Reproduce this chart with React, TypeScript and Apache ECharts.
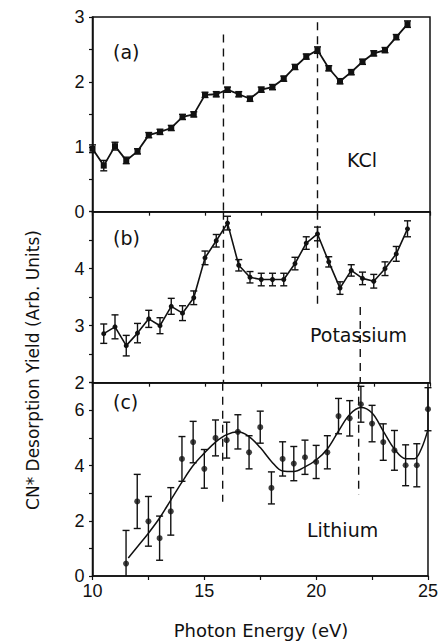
import React, { useEffect, useRef } from "react";
import * as echarts from "echarts";

// Panel (a) KCl
const kclX = [10, 10.5, 11, 11.5, 12, 12.5, 13, 13.5, 14, 14.5, 15, 15.5, 16, 16.5, 17, 17.5, 18, 18.5, 19, 19.5, 20, 20.5, 21, 21.5, 22, 22.5, 23, 23.5, 24];
const kclY = [0.97, 0.71, 1.01, 0.79, 0.93, 1.18, 1.23, 1.29, 1.46, 1.5, 1.8, 1.81, 1.88, 1.81, 1.74, 1.88, 1.92, 2.05, 2.23, 2.39, 2.49, 2.21, 2.01, 2.15, 2.31, 2.44, 2.49, 2.69, 2.89];
const kclErr = [0.06, 0.08, 0.06, 0.05, 0.04, 0.04, 0.04, 0.04, 0.04, 0.04, 0.04, 0.04, 0.04, 0.04, 0.04, 0.04, 0.04, 0.04, 0.04, 0.04, 0.05, 0.04, 0.04, 0.04, 0.04, 0.04, 0.04, 0.04, 0.05];

// Panel (b) Potassium
const kX = [10.5, 11, 11.5, 12, 12.5, 13, 13.5, 14, 14.5, 15, 15.5, 16, 16.5, 17, 17.5, 18, 18.5, 19, 19.5, 20, 20.5, 21, 21.5, 22, 22.5, 23, 23.5, 24];
const kY = [2.86, 2.98, 2.65, 2.87, 3.12, 3.0, 3.34, 3.22, 3.49, 4.19, 4.49, 4.8, 4.06, 3.85, 3.81, 3.81, 3.81, 4.09, 4.45, 4.61, 4.12, 3.66, 3.97, 3.83, 3.78, 4.0, 4.26, 4.7];
const kErr = [0.17, 0.21, 0.18, 0.17, 0.15, 0.14, 0.14, 0.13, 0.12, 0.12, 0.11, 0.12, 0.1, 0.1, 0.11, 0.11, 0.11, 0.11, 0.11, 0.12, 0.09, 0.11, 0.1, 0.11, 0.12, 0.12, 0.13, 0.14];

// Panel (c) Lithium
const liX = [11.5, 12, 12.5, 13, 13.5, 14, 14.5, 15, 15.5, 16, 16.5, 17, 17.5, 18, 18.5, 19, 19.5, 20, 20.5, 21, 21.5, 22, 22.5, 23, 23.5, 24, 24.5, 25];
const liY = [0.45, 2.7, 1.98, 1.37, 2.34, 4.24, 4.85, 3.88, 5.0, 4.92, 5.22, 4.48, 5.39, 3.19, 4.24, 4.07, 4.3, 4.13, 4.48, 5.79, 5.71, 6.22, 5.52, 4.85, 4.55, 4.01, 4.01, 6.04];
const liErr = [1.2, 0.98, 0.9, 0.8, 0.86, 0.81, 0.75, 0.7, 0.65, 0.65, 0.62, 0.6, 0.58, 0.58, 0.62, 0.62, 0.62, 0.6, 0.6, 0.64, 0.64, 0.65, 0.66, 0.66, 0.72, 0.74, 0.78, 0.78];

// Fitted curve in panel (c)
const fitX = [11.6, 12, 12.5, 13, 13.5, 14, 14.5, 15, 15.5, 16, 16.5, 17, 17.5, 18, 18.5, 19, 19.5, 20, 20.5, 21, 21.5, 22, 22.5, 23, 23.5, 24, 24.4, 24.7, 25];
const fitY = [0.65, 1.05, 1.55, 2.1, 2.75, 3.4, 4.0, 4.45, 4.85, 5.12, 5.22, 5.05, 4.65, 4.15, 3.8, 3.78, 3.95, 4.2, 4.6, 5.25, 5.85, 6.1, 5.9, 5.25, 4.6, 4.25, 4.25, 4.6, 5.3];

// Dashed guide lines: [x, grid index, yTop, yBottom]
const guideLines: [number, number, number, number][] = [
  [15.82, 0, 2.73, 0],
  [15.82, 1, 5, 2],
  [15.82, 2, 7, 2.69],
  [20.0, 0, 2.92, 0],
  [20.0, 1, 5, 3.33],
  [21.9, 1, 3.33, 2],
  [21.9, 2, 7, 2.93],
];

const INK = "#111";
const TICK_FONT = "Liberation Sans";
const TEXT_FONT = "DejaVu Sans";

function errRender(params: any, api: any) {
  const x = api.value(0);
  const lo = api.value(1);
  const hi = api.value(2);
  const cs = params.coordSys;
  const pHi = api.coord([x, hi]);
  const pLo = api.coord([x, lo]);
  const top = Math.max(pHi[1], cs.y);
  const bot = Math.min(pLo[1], cs.y + cs.height);
  const w = 3.5;
  const st = { stroke: INK, lineWidth: 1.4 };
  const children: any[] = [
    { type: "line", shape: { x1: pHi[0], y1: top, x2: pHi[0], y2: bot }, style: st },
  ];
  if (pHi[1] >= cs.y) children.push({ type: "line", shape: { x1: pHi[0] - w, y1: pHi[1], x2: pHi[0] + w, y2: pHi[1] }, style: st });
  if (pLo[1] <= cs.y + cs.height) children.push({ type: "line", shape: { x1: pLo[0] - w, y1: pLo[1], x2: pLo[0] + w, y2: pLo[1] }, style: st });
  return { type: "group", children };
}

export default function App() {
  const ref = useRef<HTMLDivElement>(null);
  useEffect(() => {
    if (!ref.current) return;
    const chart = echarts.init(ref.current, null, { renderer: "svg" });

    const grids = [
      { left: 92.5, right: 11, top: 17, height: 194.7 },
      { left: 92.5, right: 11, top: 211.7, height: 171 },
      { left: 92.5, right: 11, top: 382.7, height: 193.3 },
    ].map((g) => ({ ...g, show: true, borderColor: INK, borderWidth: 1.5, backgroundColor: "transparent" }));

    const xAxes = [0, 1, 2].map((i) => ({
      type: "value",
      gridIndex: i,
      min: 10,
      max: 25,
      interval: 2.5,
      axisLine: { show: true, lineStyle: { color: INK, width: 1.5 } },
      axisTick: { show: true, inside: false, length: 4, lineStyle: { color: INK, width: 1.2 } },
      splitLine: { show: false },
      axisLabel: {
        show: i === 2,
        color: INK,
        fontFamily: TICK_FONT,
        fontSize: 18,
        margin: 6,
        formatter: (v: number) => (v % 5 === 0 ? String(v) : ""),
      },
    }));

    const yBase = {
      type: "value",
      axisLine: { show: true, lineStyle: { color: INK, width: 1.5 } },
      axisTick: { show: true, inside: false, length: 3.5, lineStyle: { color: INK, width: 1.2 } },
      splitLine: { show: false },
    };
    const yAxes = [
      {
        ...yBase, gridIndex: 0, min: 0, max: 3, interval: 0.5,
        axisLabel: { color: INK, fontFamily: TICK_FONT, fontSize: 18, margin: 8, formatter: (v: number) => (v % 1 === 0 ? String(v) : "") },
      },
      {
        ...yBase, gridIndex: 1, min: 2, max: 5, interval: 0.5,
        axisLabel: { color: INK, fontFamily: TICK_FONT, fontSize: 18, margin: 8, formatter: (v: number) => (v % 1 === 0 && v < 5 ? String(v) : "") },
      },
      {
        ...yBase, gridIndex: 2, min: 0, max: 7, interval: 1,
        axisLabel: { color: INK, fontFamily: TICK_FONT, fontSize: 18, margin: 8, formatter: (v: number) => (v % 2 === 0 && v < 7 ? String(v) : "") },
      },
    ];

    const series: any[] = [];
    // Error bars
    const errSets = [
      { xs: kclX, ys: kclY, es: kclErr, g: 0 },
      { xs: kX, ys: kY, es: kErr, g: 1 },
      { xs: liX, ys: liY, es: liErr, g: 2 },
    ];
    errSets.forEach((s) => {
      series.push({
        type: "custom",
        xAxisIndex: s.g,
        yAxisIndex: s.g,
        renderItem: errRender,
        data: s.xs.map((x, i) => [x, s.ys[i] - s.es[i], s.ys[i] + s.es[i]]),
        z: 3,
      });
    });
    // Data lines
    series.push({
      type: "line", xAxisIndex: 0, yAxisIndex: 0,
      data: kclX.map((x, i) => [x, kclY[i]]),
      symbol: "rect", symbolSize: [6, 6], showSymbol: true,
      lineStyle: { color: INK, width: 1.8 }, itemStyle: { color: INK }, z: 4,
    });
    series.push({
      type: "line", xAxisIndex: 1, yAxisIndex: 1,
      data: kX.map((x, i) => [x, kY[i]]),
      symbol: "circle", symbolSize: 5, showSymbol: true,
      lineStyle: { color: INK, width: 1.6 }, itemStyle: { color: INK }, z: 4,
    });
    series.push({
      type: "scatter", xAxisIndex: 2, yAxisIndex: 2,
      data: liX.map((x, i) => [x, liY[i]]),
      symbol: "circle", symbolSize: 6,
      itemStyle: { color: INK }, z: 4,
    });
    series.push({
      type: "line", xAxisIndex: 2, yAxisIndex: 2,
      data: fitX.map((x, i) => [x, fitY[i]]),
      smooth: 0.35, showSymbol: false, symbol: "none",
      lineStyle: { color: INK, width: 1.5 }, z: 4,
    });
    // Dashed guide lines
    guideLines.forEach(([x, g, y1, y2]) => {
      series.push({
        type: "line", xAxisIndex: g, yAxisIndex: g,
        data: [[x, y1], [x, y2]],
        showSymbol: false, symbol: "none",
        lineStyle: { color: INK, width: 1.4, type: [8, 6] }, z: 2,
      });
    });

    const txt = (text: string, x: number, y: number, size = 19, extra: any = {}) => ({
      type: "text",
      x,
      y,
      ...extra,
      style: {
        text,
        fill: INK,
        font: `${size}px "${TEXT_FONT}"`,
        fontFamily: TEXT_FONT,
        fontSize: size,
        align: extra.align || "left",
        verticalAlign: "middle",
      },
    });

    chart.setOption({
      animation: false,
      backgroundColor: "#fff",
      grid: grids,
      xAxis: xAxes,
      yAxis: yAxes,
      series,
      graphic: [
        txt("(a)", 113, 52),
        txt("KCl", 347, 160),
        txt("(b)", 113, 238),
        txt("Potassium", 310, 335),
        txt("(c)", 113, 402),
        txt("Lithium", 307, 530),
        txt("Photon Energy (eV)", 261, 630, 18, { align: "center" }),
        txt("CN* Desorption Yield (Arb. Units)", 33, 370, 17, { align: "center", rotation: Math.PI / 2 }),
      ],
    });
    return () => chart.dispose();
  }, []);
  return (
    <div
      ref={ref}
      style={{ position: "absolute", left: 0, top: 0, width: 441, height: 642, background: "#fff" }}
    />
  );
}
